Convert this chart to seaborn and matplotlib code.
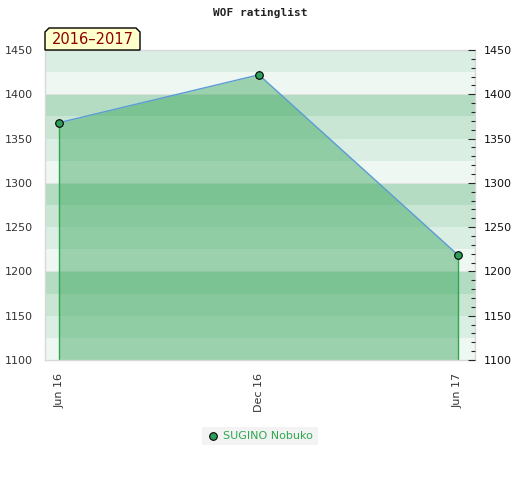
import matplotlib
matplotlib.use("Agg")
import matplotlib.pyplot as plt
from matplotlib.patches import Polygon
from matplotlib.ticker import MultipleLocator
import matplotlib.dates as mdates
import seaborn as sns
import pandas as pd

# data
dates = ["2016-06-01", "2016-12-01", "2017-06-01"]
ratings = [1368, 1422, 1219]
tick_dates = ["2016-06-01", "2016-12-01", "2017-06-01"]
tick_labels = ["Jun 16", "Dec 16", "Jun 17"]
player = "SUGINO Nobuko"
season = "2016\u20132017"
title = "WOF ratinglist"

df = pd.DataFrame({"date": pd.to_datetime(dates), "rating": ratings})

sns.set_style("white")
plt.rcParams['font.family'] = ['DejaVu Sans']

fig = plt.figure(figsize=(5.2, 4.8), dpi=100)
ax = fig.add_axes([45 / 520, 1 - 360 / 480, 430 / 520, 310 / 480])

# background bands, 25 points each, cycling darker towards each hundred
band_cols = ["#eff7f2", "#dbeee3", "#c8e6d3", "#b3dcc2"]
for i, lo in enumerate(range(1100, 1450, 25)):
    ax.axhspan(lo, lo + 25, color=band_cols[i % 4], lw=0, zorder=0)
for h in (1200, 1300, 1400):
    ax.axhline(h, color="#e2e2e2", lw=0.7, zorder=0.5)

ax.fill_between(df["date"], df["rating"], 1100, color="#40a860", alpha=0.48,
                lw=0, zorder=1)
ax.vlines([df["date"].iloc[0], df["date"].iloc[-1]], 1100,
          [df["rating"].iloc[0], df["rating"].iloc[-1]],
          color="#2ea84f", lw=1, zorder=2)
sns.lineplot(data=df, x="date", y="rating", ax=ax, color="#5b9bd5", lw=1,
             zorder=3, legend=False)
sns.scatterplot(data=df, x="date", y="rating", ax=ax, color="#2e9e5b",
                edgecolor="black", linewidth=0.8, s=30, zorder=4, label=player)

ax.set_xlim(pd.Timestamp("2016-05-19"), pd.Timestamp("2017-06-17"))
ax.set_ylim(1100, 1450)
ax.set_xlabel("")
ax.set_ylabel("")
ax.set_xticks(pd.to_datetime(tick_dates))
ax.set_xticklabels(tick_labels, rotation=90, va="top", ha="center")
ax.yaxis.set_major_locator(MultipleLocator(50))
ax.tick_params(axis="both", length=0, labelsize=8, labelcolor="#333333")
ax.tick_params(axis="x", pad=9)
ax.tick_params(axis="y", pad=9)
for s in ax.spines.values():
    s.set_color("#d8d8d8")
    s.set_linewidth(1)

ax2 = ax.twinx()
ax2.set_ylim(1100, 1450)
ax2.yaxis.set_major_locator(MultipleLocator(50))
ax2.yaxis.set_minor_locator(MultipleLocator(10))
ax2.tick_params(axis="y", which="major", direction="in", length=5, width=0.8,
                labelsize=8, labelcolor="#111111", pad=6)
ax2.tick_params(axis="y", which="minor", direction="in", length=3, width=0.8)
for s in ax2.spines.values():
    s.set_visible(False)

ax.get_legend().remove() if ax.get_legend() else None
handles, labels = ax.get_legend_handles_labels()
leg = fig.legend(handles, labels, loc="center", bbox_to_anchor=(0.5, 1 - 436 / 480),
                 frameon=True, fancybox=False, facecolor="#f0f0f0", edgecolor="none",
                 fontsize=8, handletextpad=0.3, borderpad=0.4, handlelength=1.2)
for t in leg.get_texts():
    t.set_color("#2ea84f")

fig.text(0.5, 1 - 13 / 480, title, ha="center", va="center",
         family="DejaVu Sans Mono", weight="bold", size=8, color="#222222")

# season tag with chamfered top corners
x0, x1, y0, y1, c = 45, 140, 50, 28, 4
pts = [(x0, y0), (x0, y1 + c), (x0 + c, y1), (x1 - c, y1), (x1, y1 + c), (x1, y0)]
pts = [(x / 520, 1 - y / 480) for x, y in pts]
fig.patches.append(Polygon(pts, closed=True, transform=fig.transFigure,
                           facecolor="#ffffcc", edgecolor="black", lw=1, zorder=5))
fig.text((x0 + x1) / 2 / 520, 1 - 40 / 480, season, ha="center", va="center",
         size=10.5, color="#8b0000", zorder=6)

fig.savefig("out.png", dpi=100)
